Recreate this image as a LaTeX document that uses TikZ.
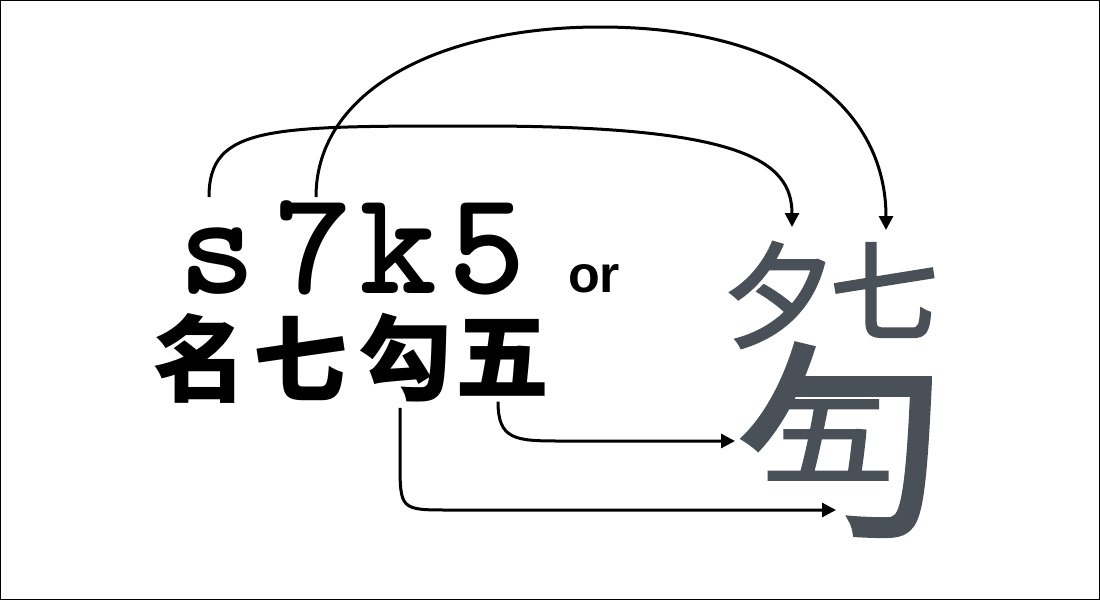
\documentclass[tikz,border=0pt]{standalone}
\usepackage{fontspec}
\usetikzlibrary{arrows.meta,calc}
\newfontfamily\sansf{Liberation Sans}
\newfontfamily\cjk{Noto Sans CJK SC}
\newfontfamily\cjkm[FakeBold=2.5]{Noto Sans CJK SC}
\definecolor{glyph}{HTML}{4A5058}
\begin{document}
\begin{tikzpicture}[x=1pt,y=-1pt,
  lat/.style={inner sep=0pt, anchor=base, font=\ttfamily\bfseries\fontsize{148}{148}\selectfont},
  han/.style={inner sep=0pt, font=\cjk\bfseries\fontsize{94}{94}\selectfont},
  big/.style={inner sep=0pt, text=glyph},
  arr/.style={line width=3pt, -{Triangle[length=14pt,width=14pt]}}]
\useasboundingbox (0,0) rectangle (1100,600);
\draw[line width=1pt] (0.5,0.5) rectangle (1099.5,599.5);
% latin code
\node[lat] (s) at (217,293) {s};
\node[lat] (seven) at (313,293) {7};
\node[lat] (k) at (398,293) {k};
\node[lat] (five) at (487,293) {5};
\node[inner sep=0pt, anchor=base, font=\sansf\bfseries\fontsize{52}{52}\selectfont] (or) at (594,292) {or};
% hanzi row
\node[han] (ming) at (200,358) {名};
\node[han] (qi) at (300,358) {七};
\node[han] (gou) at (405,358) {勾};
\node[han] (wu) at (502,358) {五};
% composed character
\node[big, font=\cjkm\fontsize{114}{114}\selectfont] (bxi) at (779,295) {夕};
\node[big, font=\cjkm\fontsize{108}{108}\selectfont] (bqi) at (884,290) {七};
\node[big, font=\cjkm\fontsize{208}{208}\selectfont] (bbao) at (840,440) {勹};
\node[big, font=\cjkm\fontsize{132}{132}\selectfont] (bwu) at (828,440) {\scalebox{1}[0.78]{五}};
% connector ends
\coordinate (t1) at (792,227);
\coordinate (t2) at (886,230);
\coordinate (t3) at (735,441);
\coordinate (t4) at (836,510);
% connectors
\draw[arr] (209,197) .. controls (209,125) and (270,126) .. (480,126)
  .. controls (740,126) and (792,160) .. (t1);
\draw[arr] (316,197) .. controls (316,90) and (440,27) .. (600,27)
  .. controls (790,27) and (886,110) .. (t2);
\draw[arr] ($(wu.south)+(-4,5)$) .. controls +(0,38) and (515,441) .. (560,441) -- (t3);
\draw[arr] ($(gou.south)+(-5,5)$) -- (400,460) .. controls (400,510) .. (450,510) -- (t4);
\end{tikzpicture}
\end{document}
